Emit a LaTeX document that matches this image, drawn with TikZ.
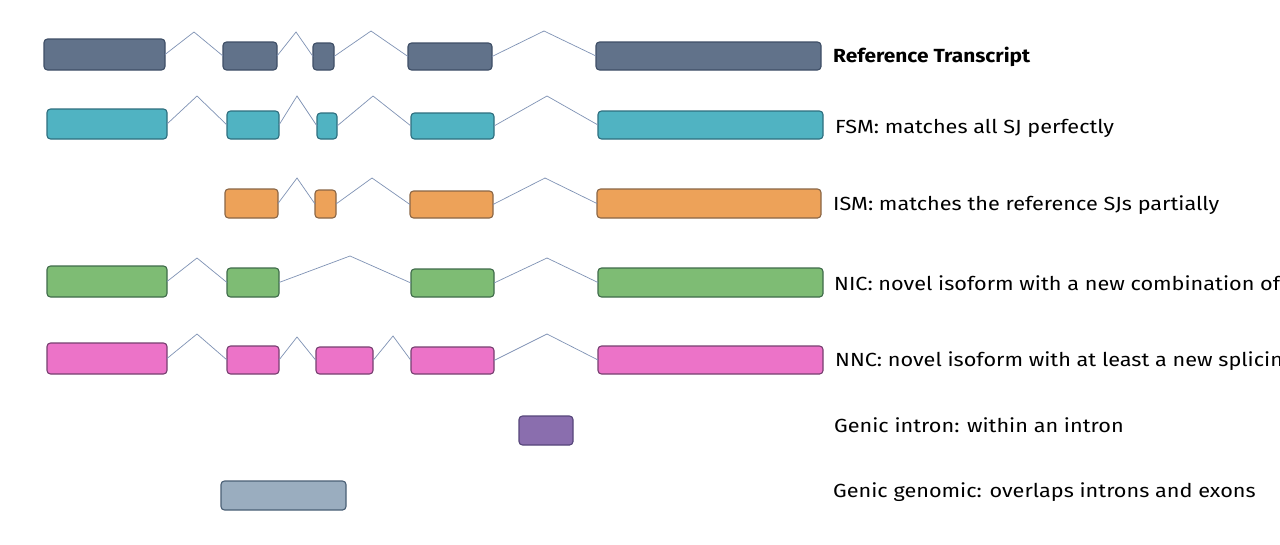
\documentclass[tikz,border=0pt]{standalone}
\usepackage{fontspec}
\setmainfont{Fira Sans}[FakeStretch=1.14, BoldFeatures={FakeStretch=1.1}]
\definecolor{refF}{HTML}{61728A}\definecolor{refD}{HTML}{3E4E66}
\definecolor{fsmF}{HTML}{50B3C2}\definecolor{fsmD}{HTML}{2E6E7E}
\definecolor{ismF}{HTML}{EDA259}\definecolor{ismD}{HTML}{8A6646}
\definecolor{nicF}{HTML}{7EBC74}\definecolor{nicD}{HTML}{3F6B4A}
\definecolor{nncF}{HTML}{EC73C8}\definecolor{nncD}{HTML}{764070}
\definecolor{genF}{HTML}{8A6EAE}\definecolor{genD}{HTML}{56467A}
\definecolor{ggF}{HTML}{9AADBF}\definecolor{ggD}{HTML}{4A5F75}
\definecolor{junc}{HTML}{7F92B5}
\tikzset{
  exon/.style={rectangle, rounded corners=3.5pt, line width=1.1pt, inner sep=0pt, outer sep=0pt},
  ref/.style={exon, fill=refF, draw=refD},
  fsm/.style={exon, fill=fsmF, draw=fsmD},
  ism/.style={exon, fill=ismF, draw=ismD},
  nic/.style={exon, fill=nicF, draw=nicD},
  nnc/.style={exon, fill=nncF, draw=nncD},
  gen/.style={exon, fill=genF, draw=genD},
  genom/.style={exon, fill=ggF, draw=ggD},
  junction/.style={draw=junc, line width=0.7pt},
  lbl/.style={anchor=base west, inner sep=0pt, font=\fontsize{19}{22}\selectfont, text=black}
}
\newcommand\exonbox[6]{%
  \node[#6, minimum width={(#4-#2)*1pt}, minimum height={(#5-#3)*1pt}] (#1) at ({(#2+#4)/2},{(#3+#5)/2}) {};}
\begin{document}
\begin{tikzpicture}[x=1pt,y=-1pt]
\useasboundingbox (0,0) rectangle (1280,544);
\clip (0,0) rectangle (1280,544);
\fill[white] (0,0) rectangle (1280,544);
% Reference
\exonbox{r1}{44}{39}{165}{70}{ref}
\exonbox{r2}{223}{42}{277}{70}{ref}
\exonbox{r3}{313}{43}{334}{70}{ref}
\exonbox{r4}{408}{43}{492}{70}{ref}
\exonbox{r5}{596}{42}{821}{70}{ref}
\coordinate (rp1) at (194,32);\coordinate (rp2) at (296,32);
\coordinate (rp3) at (371,31);\coordinate (rp4) at (544,31);
\draw[junction] (r1.east) -- (rp1) -- (r2.west);
\draw[junction] (r2.east) -- (rp2) -- (r3.west);
\draw[junction] (r3.east) -- (rp3) -- (r4.west);
\draw[junction] (r4.east) -- (rp4) -- (r5.west);
% FSM
\exonbox{f1}{47}{109}{167}{139}{fsm}
\exonbox{f2}{227}{111}{279}{139}{fsm}
\exonbox{f3}{317}{113}{337}{139}{fsm}
\exonbox{f4}{411}{113}{494}{139}{fsm}
\exonbox{f5}{598}{111}{823}{139}{fsm}
\coordinate (fp1) at (197,96);\coordinate (fp2) at (297,96);
\coordinate (fp3) at (373,96);\coordinate (fp4) at (547,96);
\draw[junction] (f1.east) -- (fp1) -- (f2.west);
\draw[junction] (f2.east) -- (fp2) -- (f3.west);
\draw[junction] (f3.east) -- (fp3) -- (f4.west);
\draw[junction] (f4.east) -- (fp4) -- (f5.west);
% ISM
\exonbox{i2}{225}{189}{278}{218}{ism}
\exonbox{i3}{315}{190}{336}{218}{ism}
\exonbox{i4}{410}{191}{493}{218}{ism}
\exonbox{i5}{597}{189}{821}{218}{ism}
\coordinate (ip2) at (297,178);\coordinate (ip3) at (372,178);\coordinate (ip4) at (545,178);
\draw[junction] (i2.east) -- (ip2) -- (i3.west);
\draw[junction] (i3.east) -- (ip3) -- (i4.west);
\draw[junction] (i4.east) -- (ip4) -- (i5.west);
% NIC
\exonbox{n1}{47}{266}{167}{297}{nic}
\exonbox{n2}{227}{268}{279}{297}{nic}
\exonbox{n4}{411}{269}{494}{297}{nic}
\exonbox{n5}{598}{268}{823}{297}{nic}
\coordinate (np1) at (197,258);\coordinate (np2) at (350,256);\coordinate (np4) at (547,258);
\draw[junction] (n1.east) -- (np1) -- (n2.west);
\draw[junction] (n2.east) -- (np2) -- (n4.west);
\draw[junction] (n4.east) -- (np4) -- (n5.west);
% NNC
\exonbox{c1}{47}{343}{167}{374}{nnc}
\exonbox{c2}{227}{346}{279}{374}{nnc}
\exonbox{c3}{316}{347}{373}{374}{nnc}
\exonbox{c4}{411}{347}{494}{374}{nnc}
\exonbox{c5}{598}{346}{823}{374}{nnc}
\coordinate (cp1) at (197,334);\coordinate (cp2) at (297,337);
\coordinate (cp3) at (393,336);\coordinate (cp4) at (547,334);
\draw[junction] (c1.east) -- (cp1) -- (c2.west);
\draw[junction] (c2.east) -- (cp2) -- (c3.west);
\draw[junction] (c3.east) -- (cp3) -- (c4.west);
\draw[junction] (c4.east) -- (cp4) -- (c5.west);
% Genic intron / genomic
\exonbox{g1}{519}{416}{573}{445}{gen}
\exonbox{gg}{221}{481}{346}{510}{genom}
% Labels
\node[lbl, font=\fontsize{19}{22}\selectfont\bfseries] (tref) at (833,62) {Reference Transcript};
\node[lbl] (tfsm) at (835,133) {FSM: matches all SJ perfectly};
\node[lbl] (tism) at (833,210) {ISM: matches the reference SJs partially};
\node[lbl] (tnic) at (834,290) {NIC: novel isoform with a new combination of};
\node[lbl] (tnnc) at (835,366) {NNC: novel isoform with at least a new splicing};
\node[lbl] (tgi) at (834,432) {Genic intron: within an intron};
\node[lbl] (tgg) at (833,497) {Genic genomic: overlaps introns and exons};
\end{tikzpicture}
\end{document}
